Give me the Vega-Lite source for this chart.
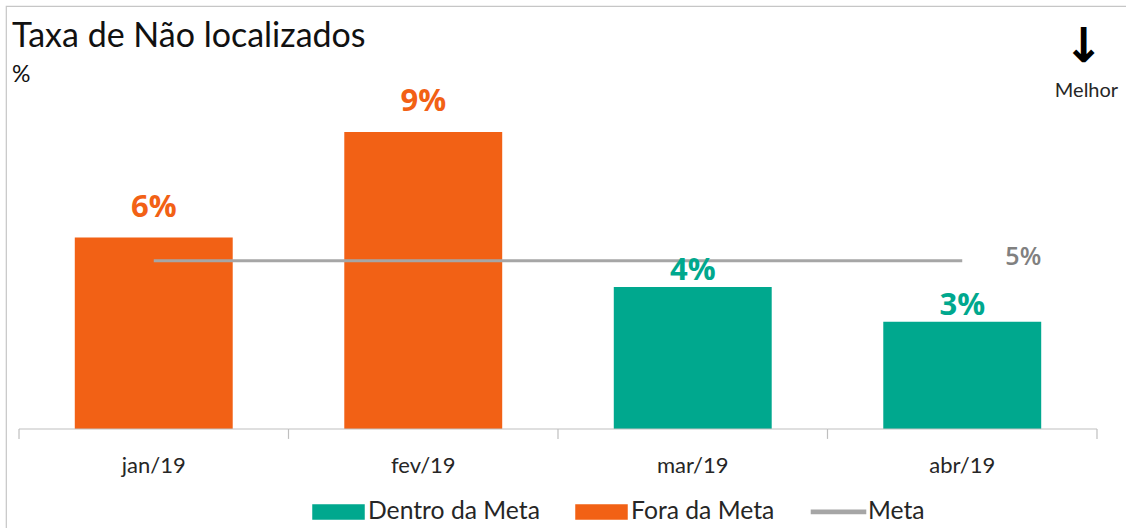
{
  "$schema": "https://vega.github.io/schema/vega-lite/v6.json",
  "width": 1121,
  "height": 523,
  "autosize": {"type": "none"},
  "padding": {"left": 6, "top": 6, "right": 0, "bottom": 0},
  "background": "white",
  "config": {"view": {"stroke": "#c6c6c6", "strokeWidth": 1.2}, "font": "Lato"},
  "title": {
    "text": "Taxa de Não localizados",
    "subtitle": "%",
    "anchor": "start",
    "frame": "group",
    "offset": -81,
    "dx": 6,
    "font": "Lato",
    "fontSize": 34,
    "fontWeight": "normal",
    "color": "#111111",
    "subtitleFont": "Lato",
    "subtitleFontSize": 23,
    "subtitleColor": "#111111",
    "subtitlePadding": 10
  },
  "data": {
    "values": [
      {"mes": "jan/19", "taxa": 0.058, "meta": 0.051, "status": "Fora da Meta"},
      {"mes": "fev/19", "taxa": 0.090, "meta": 0.051, "status": "Fora da Meta"},
      {"mes": "mar/19", "taxa": 0.043, "meta": 0.051, "status": "Dentro da Meta"},
      {"mes": "abr/19", "taxa": 0.0325, "meta": 0.051, "status": "Dentro da Meta"}
    ]
  },
  "layer": [
    {
      "mark": {"type": "bar", "width": {"band": 0.586}},
      "encoding": {
        "x": {
          "field": "mes", "type": "nominal", "sort": null,
          "scale": {"paddingInner": 0, "paddingOuter": 0.0798, "align": 0.3023},
          "axis": {"title": null, "domain": false, "ticks": false, "labelFont": "Lato", "labelFontSize": 22, "labelColor": "#262626", "labelPadding": 26, "offset": -100, "labelAngle": 0}
        },
        "y": {"field": "taxa", "type": "quantitative", "scale": {"domain": [-0.0303, 0.12818], "nice": false, "zero": false}, "axis": null},
        "color": {
          "field": "status", "type": "nominal",
          "scale": {"domain": ["Dentro da Meta", "Fora da Meta", "Meta"], "range": ["#00A88E", "#F26115", "#A6A6A6"]},
          "legend": {
            "title": null, "orient": "none", "legendX": 306, "legendY": 479, "direction": "horizontal",
            "labelFont": "Lato", "labelFontSize": 24.7, "labelColor": "#262626", "labelLimit": 0,
            "symbolSize": 2601, "labelOffset": 3, "columnPadding": 33, "padding": 0,
            "encode": {"symbols": {"update": {
              "shape": {"signal": "datum.value === 'Meta' ? 'M-1.06,-0.06H1.06V0.06H-1.06Z' : 'M-1,-0.275H1V0.275H-1Z'"},
              "fill": {"scale": "color", "field": "value"},
              "stroke": {"value": "transparent"},
              "opacity": {"value": 1}
            }}}
          }
        }
      }
    },
    {
      "mark": {"type": "line", "strokeWidth": 3},
      "encoding": {
        "x": {"field": "mes", "type": "nominal", "sort": null},
        "y": {"field": "meta", "type": "quantitative"},
        "color": {"datum": "Meta"}
      }
    },
    {
      "transform": [{"filter": "datum.status === 'Fora da Meta'"}],
      "mark": {"type": "text", "font": "Open Sans", "fontWeight": 700, "fontSize": 31, "baseline": "alphabetic", "dy": -21, "color": "#F26115"},
      "encoding": {
        "x": {"field": "mes", "type": "nominal", "sort": null},
        "y": {"field": "taxa", "type": "quantitative"},
        "text": {"field": "taxa", "type": "quantitative", "format": ".0%"}
      }
    },
    {
      "transform": [{"filter": "datum.status === 'Dentro da Meta'"}],
      "mark": {"type": "text", "font": "Open Sans", "fontWeight": 700, "fontSize": 31, "baseline": "alphabetic", "dy": -7, "color": "#00A88E"},
      "encoding": {
        "x": {"field": "mes", "type": "nominal", "sort": null},
        "y": {"field": "taxa", "type": "quantitative"},
        "text": {"field": "taxa", "type": "quantitative", "format": ".0%"}
      }
    },
    {
      "transform": [{"filter": "datum.mes === 'abr/19'"}],
      "mark": {"type": "text", "font": "Open Sans", "fontWeight": 600, "fontSize": 25, "baseline": "alphabetic", "align": "left", "dy": 4, "color": "#808080"},
      "encoding": {
        "x": {"field": "mes", "type": "nominal", "sort": null, "bandPosition": 0.66},
        "y": {"field": "meta", "type": "quantitative"},
        "text": {"field": "meta", "type": "quantitative", "format": ".0%"}
      }
    },
    {
      "mark": {"type": "rule", "color": "#BFBFBF", "strokeWidth": 1.2},
      "encoding": {
        "x": {"field": "mes", "type": "nominal", "sort": null, "bandPosition": 0},
        "x2": {"field": "mes", "bandPosition": 1},
        "y": {"datum": 0}
      }
    },
    {
      "mark": {"type": "rule", "color": "#BFBFBF", "strokeWidth": 1.2},
      "encoding": {
        "x": {"field": "mes", "type": "nominal", "sort": null, "bandPosition": 0},
        "y": {"datum": 0},
        "y2": {"datum": -0.003}
      }
    },
    {
      "transform": [{"filter": "datum.mes === 'abr/19'"}],
      "mark": {"type": "rule", "color": "#BFBFBF", "strokeWidth": 1.2},
      "encoding": {
        "x": {"field": "mes", "type": "nominal", "sort": null, "bandPosition": 1},
        "y": {"datum": 0},
        "y2": {"datum": -0.003}
      }
    },
    {
      "transform": [{"filter": "datum.mes === 'abr/19'"}],
      "mark": {"type": "text", "text": "↓", "font": "DejaVu Sans", "fontWeight": "bold", "fontSize": 48, "baseline": "middle", "color": "#000000"},
      "encoding": {
        "x": {"field": "mes", "type": "nominal", "sort": null, "bandPosition": 0.95},
        "y": {"datum": 0.11545}
      }
    },
    {
      "transform": [{"filter": "datum.mes === 'abr/19'"}],
      "mark": {"type": "text", "text": "Melhor", "font": "Lato", "fontSize": 20, "baseline": "alphabetic", "color": "#262626"},
      "encoding": {
        "x": {"field": "mes", "type": "nominal", "sort": null, "bandPosition": 0.961},
        "y": {"datum": 0.1006}
      }
    }
  ]
}
